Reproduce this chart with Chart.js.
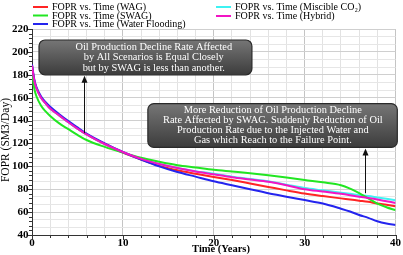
<!DOCTYPE html>
<html><head><meta charset="utf-8">
<script src="https://cdn.jsdelivr.net/npm/chart.js@4/dist/chart.umd.min.js"></script>
<style>html,body{margin:0;padding:0;background:#fff}#wrap{width:403px;height:255px}</style>
</head><body><div id="wrap"><canvas id="c" width="403" height="255"></canvas></div>
<script>
const years = [0,0.25,0.5,1,1.5,2,3,4,5,6,8,10,12,14,16,18,20,22,24,26,28,30,32,34,35,36,37,38,39,40];
const wag = [188,175,168,160,155,150.5,144.5,138.5,133,128,119.5,112,106,100.5,96.5,93.5,90.7,88,85,82,79,76.2,74,72,71,70,69,67.5,66.4,65.2];
const swag = [182,168,161,153,148,144,137.5,132.5,127.5,123,117,112,107.5,104,101,99,97,95.5,94,92.2,90.2,88,86,83.5,80.5,76.5,72,67.5,64.3,61.7];
const waterFlooding = [189,176,169,161,156,152,145.5,139.5,134,128.5,120,112.5,106,100,95,91,87,83.5,80,76.5,73.5,70.5,67.5,63,60.5,57.5,55,52,50,48.7];
const miscibleCO2 = [188,175,168,160,155,150.5,144.5,138.5,133,128,119.5,112.5,106.5,102,98.5,95.8,93.5,91,89,87,84,81,79,77,76,75,74,72.8,71.6,70.4];
const hybrid = [188,175,168,160,155,150.5,144.5,138.5,133,128,119.5,112.5,106.5,102,98.5,95.5,93,90.5,88.5,86.5,83.5,80,78,76,74.8,73.5,72.3,71,69.5,68];
const seriesLabels = ['FOPR vs. Time (WAG)','FOPR vs. Time (SWAG)','FOPR vs. Time (Water Flooding)','FOPR vs. Time (Miscible CO\u2082)','FOPR vs. Time (Hybrid)'];
const xLabels = [0,10,20,30,40];
const yLabels = [40,60,80,100,120,140,160,180,200,220];
const xTitle = 'Time (Years)';
const yTitle = 'FOPR (SM3/Day)';
const notes = [
  {x0:0.77,x1:24.2,y0:210.4,y1:180,tx:13.4,ax:5.75,ay:129,lines:['Oil Production Decline Rate Affected','by All Scenarios is Equal Closely','but by SWAG is less than another.']},
  {x0:12.75,x1:40.2,y0:154.8,y1:116.5,tx:26.5,ax:36.6,ay:76.5,lines:['More Reduction of Oil Production Decline','Rate Affected by SWAG. Suddenly Reduction of Oil','Production Rate due to the Injected Water and','Gas which Reach to the Failure Point.']}
];
const colors = ['#ff2424','#22e622','#2424ee','#3ef2f2','#f214c4'];
const orders = [4,2,1,3,0];
const all = [wag,swag,waterFlooding,miscibleCO2,hybrid];
const serif = "'Liberation Serif','Times New Roman',serif";

const datasets = all.map((arr,i)=>({
  label: seriesLabels[i],
  data: years.map((t,k)=>({x:t,y:arr[k]})),
  borderColor: colors[i], backgroundColor: colors[i],
  borderWidth: 2, pointRadius: 0, cubicInterpolationMode:'monotone', order: orders[i], fill:false
}));

const near = (v,m)=>Math.abs(v/m-Math.round(v/m))<1e-6;

const deco = {
  id:'deco',
  afterDatasetsDraw(chart){
    const ctx = chart.ctx, xs = chart.scales.x, ys = chart.scales.y, a = chart.chartArea;
    ctx.save();
    ctx.strokeStyle = '#333'; ctx.lineWidth = 1;
    ctx.beginPath();
    for(let v=40; v<=220.001; v+=4){
      const y = Math.round(ys.getPixelForValue(v))+0.5;
      const len = near(v,20)?4:3;
      ctx.moveTo(a.left-len,y); ctx.lineTo(a.left,y);
    }
    for(let v=0; v<=40.001; v+=2){
      const x = Math.round(xs.getPixelForValue(v))+0.5;
      const len = near(v,10)?5:3;
      ctx.moveTo(x,a.bottom); ctx.lineTo(x,a.bottom+len);
    }
    ctx.stroke();
    ctx.fillStyle='#000';
    ctx.font='bold 10.5px '+serif; ctx.textAlign='center'; ctx.textBaseline='middle';
    ctx.fillText(xTitle, xs.getPixelForValue(20.8), 249);
    ctx.save(); ctx.translate(6, ys.getPixelForValue(123)); ctx.rotate(-Math.PI/2);
    ctx.font='11.5px '+serif; ctx.fillText(yTitle,0,0); ctx.restore();
    notes.forEach(n=>{
      const l = xs.getPixelForValue(n.x0), r = xs.getPixelForValue(n.x1);
      const t = ys.getPixelForValue(n.y0), b = ys.getPixelForValue(n.y1);
      const ax = Math.round(xs.getPixelForValue(n.ax))+0.5, ay = ys.getPixelForValue(n.ay);
      ctx.strokeStyle='#111'; ctx.lineWidth=1;
      ctx.beginPath(); ctx.moveTo(ax,ay); ctx.lineTo(ax,b+4); ctx.stroke();
      ctx.fillStyle='#111'; ctx.beginPath(); ctx.moveTo(ax,b+1); ctx.lineTo(ax-3,b+8); ctx.lineTo(ax+3,b+8); ctx.closePath(); ctx.fill();
      const g = ctx.createLinearGradient(0,t,0,b);
      g.addColorStop(0,'#767676'); g.addColorStop(1,'#3c3c3c');
      ctx.fillStyle=g; ctx.strokeStyle='#2a2a2a'; ctx.lineWidth=1.2;
      ctx.beginPath(); ctx.roundRect(l,t,r-l,b-t,6); ctx.fill(); ctx.stroke();
      ctx.fillStyle='#fff'; ctx.font='10.4px '+serif; ctx.textAlign='center'; ctx.textBaseline='middle';
      const lh = n.lines.length===3?10.5:10;
      const cy = (t+b)/2, cx = xs.getPixelForValue(n.tx);
      n.lines.forEach((s,i)=>ctx.fillText(s,cx,cy+(i-(n.lines.length-1)/2)*lh));
    });
    const pos = [[33,7],[33,15.5],[33,24],[216,7],[216,16]];
    ctx.font='10px '+serif; ctx.textAlign='left'; ctx.textBaseline='middle';
    chart.data.datasets.forEach((d,i)=>{
      const [x,y]=pos[i];
      ctx.strokeStyle=d.borderColor; ctx.lineWidth=2;
      ctx.beginPath(); ctx.moveTo(x,y); ctx.lineTo(x+15,y); ctx.stroke();
      ctx.fillStyle='#000'; ctx.fillText(d.label,x+19,y+0.5);
    });
    ctx.restore();
  }
};

new Chart(document.getElementById('c'),{
  type:'line',
  data:{datasets},
  options:{
    responsive:false, animation:false, maintainAspectRatio:false,
    layout:{padding:{top:29,right:7,left:0,bottom:0}},
    plugins:{legend:{display:false},tooltip:{enabled:false}},
    scales:{
      x:{type:'linear',min:0,max:40,
        afterBuildTicks(s){const t=[];for(let v=0;v<=40;v+=2)t.push({value:v});s.ticks=t;},
        afterFit(s){s.height=20;},
        ticks:{padding:2,maxRotation:0,autoSkip:false,color:'#000',font:{family:serif,size:11,weight:'bold'},
          callback:(v)=>xLabels.includes(v)?String(v):''},
        grid:{drawTicks:false,color:(c)=>near(c.tick.value,10)?'#c4c4c4':'#e2e2e2'},
        border:{color:'#333',width:1}
      },
      y:{type:'linear',min:40,max:220,
        afterBuildTicks(s){const t=[];for(let k=0;k<=27;k++)t.push({value:40+k*20/3});s.ticks=t;},
        afterFit(s){s.width=32;},
        ticks:{padding:3.5,autoSkip:false,color:'#000',font:{family:serif,size:11,weight:'bold'},
          callback:(v)=>{const r=Math.round(v);return (Math.abs(v-r)<1e-6&&yLabels.includes(r))?String(r):'';}},
        grid:{drawTicks:false,color:(c)=>near(c.tick.value,20)?'#cfcfcf':'#e6e6e6'},
        border:{color:'#333',width:1}
      }
    }
  },
  plugins:[deco]
});
</script></body></html>
